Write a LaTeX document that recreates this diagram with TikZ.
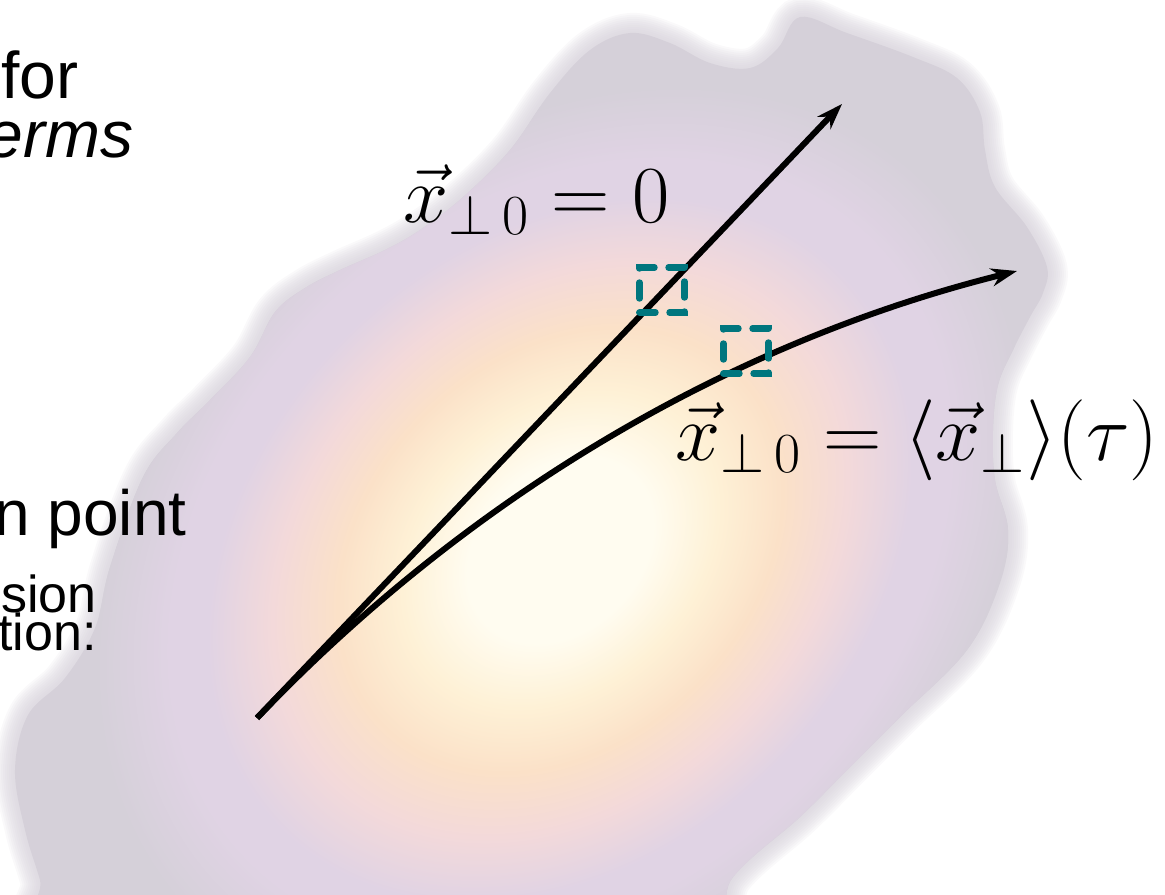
\documentclass[tikz,border=0pt]{standalone}
\usepackage{fix-cm}
\usepackage{fontspec}
\newfontfamily\arial{Liberation Sans}
\usetikzlibrary{arrows.meta}

\definecolor{glowA}{HTML}{FFFCF0}
\definecolor{glowB}{HTML}{FEF1D6}
\definecolor{glowC}{HTML}{FBE1C8}
\definecolor{glowD}{HTML}{F3D9DA}
\definecolor{glowE}{HTML}{E0D3E4}
\definecolor{blobedge}{HTML}{D5D0D9}
\definecolor{probeteal}{HTML}{00767E}

\pgfdeclareradialshading{glow}{\pgfpoint{0bp}{0bp}}{%
  color(0bp)=(glowA); color(5bp)=(glowA); color(8.5bp)=(glowB);
  color(12bp)=(glowC); color(15.5bp)=(glowD); color(19bp)=(glowE);
  color(21bp)=(glowE); color(25bp)=(blobedge); color(50bp)=(blobedge)}

\newcommand{\blobpath}{plot[smooth cycle, tension=0.6] coordinates {
  (60,950) (40,880) (25,830) (15,770) (28,715) (65,678) (95,628) (110,567)
  (143,477) (177,433) (210,400) (250,357) (275,312) (305,288) (340,270)
  (385,250) (420,230) (462,198) (510,150) (550,93) (590,50) (630,33)
  (670,43) (710,63) (750,68) (778,48) (800,17) (847,33) (913,57) (957,78)
  (980,112) (985,150) (995,187) (1027,227) (1047,267) (1043,293) (1030,317)
  (1013,350) (998,385) (993,430) (995,480) (1008,530) (1000,583) (967,650)
  (900,717) (850,767) (800,817) (733,877) (690,950) (400,980)}}

\tikzset{
  sidetext/.style={font=\arial\fontsize{33}{36}\selectfont, anchor=base east, inner sep=0pt},
  smalltext/.style={sidetext, font=\arial\fontsize{26}{30}\selectfont},
  mathlbl/.style={font=\fontsize{40.5}{44}\selectfont, anchor=base west, inner sep=0pt},
  traj/.style={line width=3pt, -{Stealth[length=13pt, width=9pt]}},
  probe/.style={draw=probeteal, line width=3.2pt, dash pattern=on 8pt off 7pt,
    line cap=round, minimum size=22.5pt, inner sep=0pt}
}

\begin{document}
\begin{tikzpicture}[x=0.5pt, y=-0.5pt]
  \useasboundingbox (0,0) rectangle (1165,894);
  \clip (0,0) rectangle (1165,894);

  % blurred blob
  \foreach \w in {2,4,...,20}
    \draw[blobedge, line width=\w pt, opacity=0.13] \blobpath;
  \fill[blobedge] \blobpath;
  \begin{scope}
    \clip \blobpath;
    \shade[shading=glow, transform canvas={shift={(560,550)}, rotate=45, xscale=1.3}]
      (0,0) circle (400);
  \end{scope}

  % cut-off text on the left
  \node[sidetext] (txtfor) at (79,98) {for};
  \node[sidetext] (txterms) at (134,157) {\itshape erms};
  \node[sidetext, font=\arial\fontsize{32}{36}\selectfont] (txtpoint) at (187,535) {n point};
  \node[smalltext] (txtsion) at (97,612) {sion};
  \node[smalltext] (txttion) at (97,650) {tion:};

  % trajectories
  \coordinate (org) at (257,718);
  \coordinate (endA) at (842,104);
  \coordinate (endB) at (1017,271);
  \draw[traj] (org) -- (endA);
  \draw[traj] (org) .. controls (464,501) and (724,344) .. (endB);

  % probes
  \node[probe] (boxA) at (662,290) {};
  \node[probe] (boxB) at (746,351) {};

  % labels
  \node[mathlbl] (lblA) at (403,222) {$\vec{x}_{\perp\,0} = 0$};
  \node[mathlbl] (lblB) at (675,460) {$\vec{x}_{\perp\,0} = \langle\vec{x}_{\perp}\rangle(\tau)$};
\end{tikzpicture}
\end{document}
